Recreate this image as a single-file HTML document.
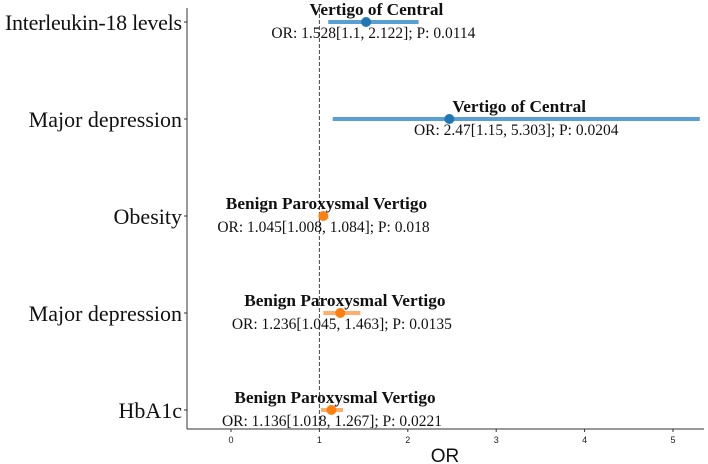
<!DOCTYPE html>
<html><head><meta charset="utf-8"><style>
body{margin:0;background:#fff;}
svg{display:block;font-family:"Liberation Serif",serif;}
</style></head><body>
<svg id="chart" width="708" height="464"></svg>
<script>
const outcomes=["Interleukin-18 levels","Major depression","Obesity","Major depression","HbA1c"];
const exposures=["Vertigo of Central","Vertigo of Central","Benign Paroxysmal Vertigo","Benign Paroxysmal Vertigo","Benign Paroxysmal Vertigo"];
const orVals=[1.528,2.47,1.045,1.236,1.136];
const loVals=[1.1,1.15,1.008,1.045,1.018];
const hiVals=[2.122,5.303,1.084,1.463,1.267];
const pVals=["0.0114","0.0204","0.018","0.0135","0.0221"];
const xTicks=[0,1,2,3,4,5];
const groups=[0,0,1,1,1];

const NS="http://www.w3.org/2000/svg";
const svg=document.getElementById('chart');
const X=v=>231+v*88.4;
const Y=i=>22+i*97;
const lineCols=["#5a9fd4","#fdae6b"],dotCols=["#1f77b4","#ff7f0e"];
function mk(t,a,p){const e=document.createElementNS(NS,t);for(const k in a)e.setAttribute(k,a[k]);(p||svg).appendChild(e);return e;}

let ax=mk('line',{x1:187,y1:8,x2:187,y2:429,stroke:'#333','stroke-width':1});


let bx=mk('line',{x1:187,y1:429,x2:704,y2:429,stroke:'#333','stroke-width':1});


let ref=mk('line',{x1:X(1),y1:8,x2:X(1),y2:429,stroke:'#444','stroke-width':1,'stroke-dasharray':'4,2'});



xTicks.forEach(t=>{
  let tk=mk('line',{x1:X(t),y1:429,x2:X(t),y2:432,stroke:'#333'});
  
  
  let tl=mk('text',{x:X(t),y:443,'text-anchor':'middle','font-size':9,'font-family':'Liberation Sans, sans-serif',fill:'#222'});
  tl.textContent=t;
  
  
});
let xt=mk('text',{x:445,y:462,'text-anchor':'middle','font-size':19,'font-family':'Liberation Sans, sans-serif',fill:'#111'});
xt.textContent='OR';



outcomes.forEach((o,i)=>{
  const y=Y(i),g=groups[i];
  let yt=mk('line',{x1:184,y1:y,x2:187,y2:y,stroke:'#333'});
  
  
  let yl=mk('text',{x:182,y:y+8,'text-anchor':'end','font-size':22,fill:'#111','textLength':o.length>18?177:null});
  if(o.length<=18) yl.removeAttribute('textLength');
  yl.textContent=o;
  
  
  let ci=mk('line',{x1:X(loVals[i]),y1:y,x2:Math.min(X(hiVals[i]),704),y2:y,stroke:lineCols[g],'stroke-width':4});
  
  
  let d=mk('circle',{cx:X(orVals[i]),cy:y,r:5,fill:dotCols[g]});
  
  
  const cx=X((loVals[i]+hiVals[i])/2);
  let a=mk('text',{x:cx+3,y:y-7,'text-anchor':'middle','font-size':17.3,'font-weight':'bold',fill:'#111'});
  a.textContent=exposures[i];
  
  
  let b=mk('text',{x:cx,y:y+16,'text-anchor':'middle','font-size':15.5,fill:'#111'});
  b.textContent='OR: '+orVals[i]+'['+loVals[i]+', '+hiVals[i]+']; P: '+pVals[i];
  
  
});
</script>
</body></html>
